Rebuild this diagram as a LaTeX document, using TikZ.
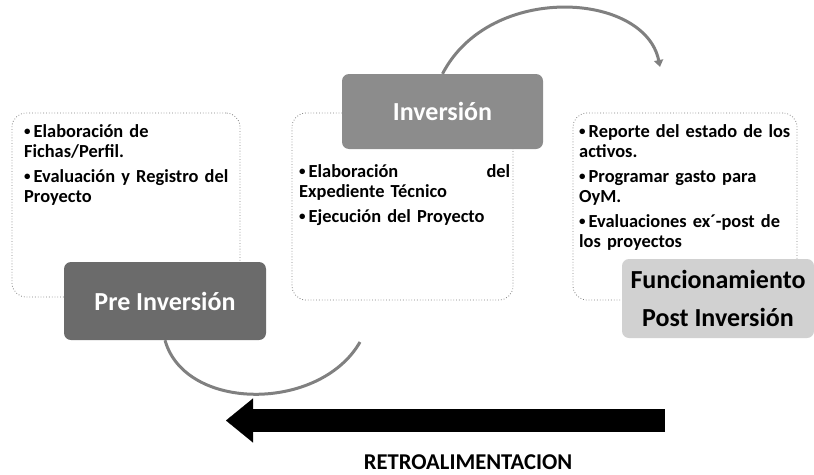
\documentclass[tikz,border=0pt]{standalone}
\usepackage{fontspec}
\setmainfont{Carlito}
\usetikzlibrary{arrows.meta}
\newcommand{\itm}[1]{\par\hangindent=9.5pt\hangafter=1\noindent\makebox[9.5pt][l]{\raisebox{0.25ex}{\fontsize{13}{13}\selectfont\textbullet}}#1}
\begin{document}
\begin{tikzpicture}
  [x=1pt,y=-1pt,
   panel/.style={draw=black!50,dotted,line width=0.8pt,rounded corners=14pt,inner sep=0pt},
   phase/.style={rounded corners=7pt,inner sep=0pt,font=\fontsize{26}{28}\selectfont\bfseries},
   bullets/.style={anchor=north west,inner sep=0pt,align=left,font=\fontsize{18.4}{19.5}\selectfont\bfseries\setlength{\parskip}{6pt}},
   loop/.style={draw=black!50,line width=3pt}]
  \useasboundingbox (0,0) rectangle (814,474);
  % dotted panels
  \node[panel,minimum width=228,minimum height=184] (p1) at (126,205) {};
  \node[panel,minimum width=221,minimum height=187] (p2) at (402.5,206.5) {};
  \node[panel,minimum width=224,minimum height=187] (p3) at (685,206.5) {};

  \node[bullets,text width=230] (t1) at (24,112) {\itm{Elaboración de\\Fichas/Perfil.}\itm{Evaluación y Registro del\\Proyecto}};
  \node[bullets,text width=211] (t2) at (299,152) {\itm{Elaboración\hfill del\\Expediente Técnico}\itm{Ejecución del Proyecto}};
  \node[bullets,text width=215] (t3) at (579,112) {\itm{Reporte del estado de los\\activos.}\itm{Programar gasto para\\OyM.}\itm{Evaluaciones ex´-post de\\los proyectos}};

  % phase labels
  \node[phase,fill=black!58,text=white,minimum width=202,minimum height=78] (pre) at (165,301) {Pre Inversión};
  \node[phase,fill=black!45,text=white,minimum width=201,minimum height=75] (inv) at (442.5,111.5) {Inversión};
  \node[phase,fill=black!18,minimum width=192,minimum height=79,align=center,font=\fontsize{26}{38}\selectfont\bfseries] (post) at (718,298.5) {Funcionamiento\\Post Inversión};

  % cycle arcs
  \coordinate (a1) at (660,67);
  \coordinate (a2) at (360,342);
  \draw[loop,-{Triangle[length=7pt,width=9pt]}] (inv.north) .. controls (490,-18) and (645,-8) .. (a1);
  \draw[loop] (pre.south) .. controls (185,412) and (320,412) .. (a2);

  % feedback
  \coordinate (fbr) at (665,420.5);
  \coordinate (fbl) at (226,420.5);
  \draw[line width=23pt,-{Triangle[length=27pt,width=44pt,line width=0.1pt]}] (fbr) -- (fbl);
  \node[font=\fontsize{22.6}{24}\selectfont\bfseries] (fb) at (468,462) {RETROALIMENTACION};
\end{tikzpicture}
\end{document}
